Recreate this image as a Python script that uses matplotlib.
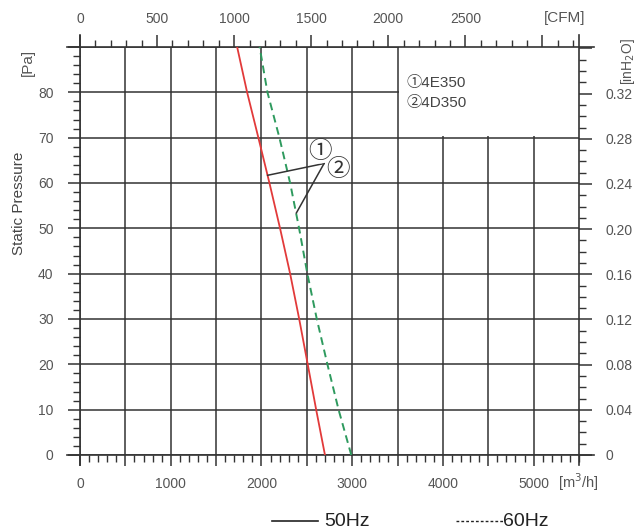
import matplotlib.pyplot as plt
import numpy as np
from matplotlib.lines import Line2D
from matplotlib.patches import Rectangle
from matplotlib.ticker import FixedLocator, MultipleLocator

plt.rcParams['font.family'] = ['Liberation Sans', 'DejaVu Sans']

# data
pressure = [0, 10, 20, 30, 40, 50, 60, 70, 80, 90]            # Pa
flow_50hz = [2700, 2603, 2510, 2416, 2316, 2205, 2088, 1966, 1842, 1732]   # m3/h
flow_60hz = [2990, 2850, 2727, 2610, 2506, 2415, 2316, 2198, 2066, 1980]   # m3/h

x_ticks = [0, 500, 1000, 1500, 2000, 2500, 3000, 3500, 4000, 4500, 5000]
y_ticks = [0, 10, 20, 30, 40, 50, 60, 70, 80, 90]
cfm_ticks = [0, 500, 1000, 1500, 2000, 2500, 3000]
inh2o_ticks = [0, 0.04, 0.08, 0.12, 0.16, 0.20, 0.24, 0.28, 0.32, 0.36]
models = ['①4E350', '②4D350']

CFM = 1.699      # m3/h per CFM
INH2O = 249.089  # Pa per inH2O

W, H = 643, 531
fig = plt.figure(figsize=(W / 100, H / 100), dpi=100)
ax = fig.add_axes([80 / W, 1 - 455 / H, (579 - 80) / W, (455 - 47) / H])
ax.set_xlim(0, 5500)
ax.set_ylim(0, 90)

gc = '#333333'
tc = '#555555'
ax.grid(True, which='major', color=gc, lw=1.1)
for s in ax.spines.values():
    s.set_visible(False)

# axis lines, a bit longer than the frame
kw = dict(transform=ax.transAxes, clip_on=False, color=gc, lw=1.2)
ax.plot([-0.027, 1.03], [0, 0], **kw)
ax.plot([-0.027, 1.03], [1, 1], **kw)
ax.plot([0, 0], [-0.025, 1.03], **kw)
ax.plot([1, 1], [-0.025, 1.03], **kw)

# bottom axis
ax.xaxis.set_major_locator(FixedLocator(x_ticks))
ax.set_xticklabels([str(v) if v % 1000 == 0 else '' for v in x_ticks])
ax.xaxis.set_minor_locator(MultipleLocator(100))
ax.tick_params(axis='x', which='major', direction='out', length=8, width=1.1,
               color=gc, labelsize=10, labelcolor=tc, pad=8)
ax.tick_params(axis='x', which='minor', direction='out', length=5, width=1,
               color=gc)

# left axis
ax.yaxis.set_major_locator(FixedLocator(y_ticks))
ax.set_yticklabels([str(v) if v < 90 else '' for v in y_ticks])
ax.yaxis.set_minor_locator(MultipleLocator(2))
ax.tick_params(axis='y', which='major', direction='out', length=9, width=1.1,
               color=gc, labelsize=10, labelcolor=tc, pad=10)
ax.tick_params(axis='y', which='minor', direction='out', length=5, width=1,
               color=gc)

# top axis (CFM)
top = ax.secondary_xaxis('top', functions=(lambda x: x / CFM, lambda c: c * CFM))
top.xaxis.set_major_locator(FixedLocator(cfm_ticks))
top.set_xticklabels([str(v) if v < 3000 else '' for v in cfm_ticks])
top.xaxis.set_minor_locator(MultipleLocator(100))
top.tick_params(which='major', direction='out', length=9, width=1.1, color=gc,
                labelsize=10, labelcolor=tc, pad=6)
top.tick_params(which='minor', direction='out', length=5, width=1, color=gc)
top.spines['top'].set_visible(False)

# right axis (inH2O)
right = ax.secondary_yaxis('right', functions=(lambda p: p / INH2O, lambda i: i * INH2O))
right.yaxis.set_major_locator(FixedLocator(inh2o_ticks))
right.set_yticklabels(['0' if v == 0 else ('' if v > 0.33 else '%.2f' % v) for v in inh2o_ticks])
right.yaxis.set_minor_locator(MultipleLocator(0.01))
right.tick_params(which='major', direction='out', length=9, width=1.1, color=gc,
                  labelsize=10, labelcolor=tc, pad=10)
right.tick_params(which='minor', direction='out', length=5, width=1, color=gc)
right.spines['right'].set_visible(False)

# blank box for the model list
ax.add_patch(Rectangle((3515, 70.3), 2000, 20, facecolor='white', edgecolor='none', zorder=1.6))

ax.plot(flow_50hz, pressure, color='#e23a3a', lw=1.3, zorder=3)
ax.plot(flow_60hz, pressure, color='#2e9a5e', lw=1.4, ls=(0, (4, 2.5)), zorder=3)

# callout lines
ax.plot([2690, 2068], [64.3, 61.7], color=gc, lw=1.1, zorder=3)
ax.plot([2690, 2385], [64.3, 53.4], color=gc, lw=1.1, zorder=3)
ax.text(2650, 66.9, '①', fontsize=17, ha='center', va='center', color='#333333',
        family=['Noto Sans CJK SC', 'DejaVu Sans'], zorder=4,
        bbox=dict(boxstyle='circle,pad=0', fc='white', ec='none'))
ax.text(2845, 62.9, '②', fontsize=17, ha='center', va='center', color='#333333',
        family=['Noto Sans CJK SC', 'DejaVu Sans'], zorder=4,
        bbox=dict(boxstyle='circle,pad=0', fc='white', ec='none'))

for i, m in enumerate(models):
    ax.text(3600, 82 - i * 4.3, m, fontsize=11, color='#444444', va='center',
            family=['Liberation Sans', 'Noto Sans CJK SC'], zorder=4)

# axis titles
fig.text(28 / W, 1 - 62 / H, '[Pa]', rotation=90, fontsize=11, color=tc, ha='center', va='center')
fig.text(19 / W, 1 - 203 / H, 'Static Pressure', rotation=90, fontsize=11, color='#444444',
         ha='center', va='center')
fig.text(565 / W, 1 - 18 / H, '[CFM]', fontsize=11, color=tc, ha='center', va='center')
fig.text(628 / W, 1 - 62 / H, '[inH$_2$O]', rotation=90, fontsize=10, color=tc,
         ha='center', va='center')
fig.text(578 / W, 1 - 482 / H, '[m$^3$/h]', fontsize=10.5, color=tc, ha='center', va='center')

# legend under the chart
fig.add_artist(Line2D([272 / W, 318 / W], [1 - 521 / H] * 2, color='#222222', lw=1.2))
fig.text(324 / W, 1 - 521 / H, '50Hz', fontsize=14, color='#222222', va='center')
fig.add_artist(Line2D([456 / W, 503 / W], [1 - 521 / H] * 2, color='#222222', lw=1,
                      ls=(0, (2, 1.5))))
fig.text(503 / W, 1 - 521 / H, '60Hz', fontsize=14, color='#222222', va='center')

fig.savefig('out.png', dpi=100)
